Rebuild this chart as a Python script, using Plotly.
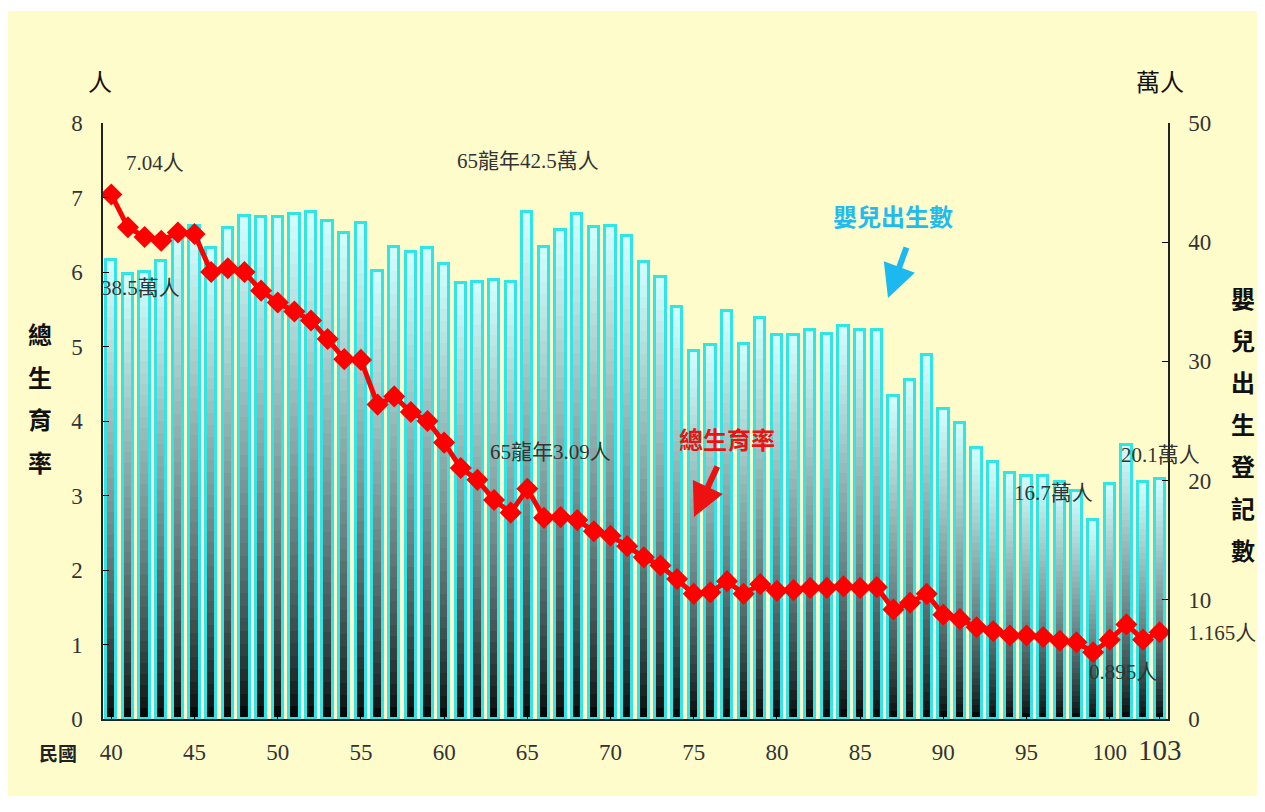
import plotly.graph_objects as go
import numpy as np

# ---------------- data ----------------
years = list(range(40, 104))
births = [38.5, 37.3, 37.5, 38.4, 41.0, 41.4, 39.5, 41.2, 42.2, 42.1,
          42.1, 42.4, 42.5, 41.8, 40.8, 41.6, 37.6, 39.6, 39.2, 39.5,
          38.2, 36.6, 36.7, 36.8, 36.7, 42.5, 39.6, 41.0, 42.4, 41.3,
          41.4, 40.5, 38.3, 37.1, 34.6, 30.9, 31.4, 34.2, 31.5, 33.6,
          32.2, 32.2, 32.6, 32.3, 33.0, 32.6, 32.6, 27.1, 28.4, 30.5,
          26.0, 24.8, 22.7, 21.6, 20.6, 20.4, 20.4, 19.9, 19.1, 16.7,
          19.7, 23.0, 19.9, 20.1]
tfr = [7.04, 6.60, 6.47, 6.42, 6.53, 6.51, 6.00, 6.05, 6.00, 5.75,
       5.59, 5.47, 5.35, 5.10, 4.83, 4.82, 4.22, 4.33, 4.12, 4.00,
       3.71, 3.37, 3.21, 2.94, 2.77, 3.09, 2.70, 2.71, 2.67, 2.52,
       2.46, 2.32, 2.17, 2.06, 1.88, 1.68, 1.70, 1.85, 1.68, 1.81,
       1.72, 1.73, 1.76, 1.76, 1.78, 1.76, 1.77, 1.47, 1.56, 1.68,
       1.40, 1.34, 1.23, 1.18, 1.12, 1.12, 1.10, 1.05, 1.03, 0.895,
       1.065, 1.27, 1.065, 1.165]
x_tickvals = [40, 45, 50, 55, 60, 65, 70, 75, 80, 85, 90, 95, 100, 103]
x_ticktext = ["40", "45", "50", "55", "60", "65", "70", "75", "80", "85",
              "90", "95", "100", "<span style='font-size:29px'>103</span>"]
left_ticks = [0, 1, 2, 3, 4, 5, 6, 7, 8]
right_ticks = [0, 10, 20, 30, 40, 50]

# ---------------- layout geometry ----------------
# page body has an 8px margin; work in screen pixels and convert
OFF = 8
W, H = 1265 - OFF, 812 - OFF
L, R, T, B = 103, 1168, 123, 719   # plot area in screen pixels


def px(xp):
    return (xp - L) / (R - L)


def py(yp):
    return (B - yp) / (B - T)


SERIF = "Liberation Serif, Times New Roman, serif"
CJK = "Noto Sans CJK TC, Noto Sans CJK SC, sans-serif"

fig = go.Figure()

# gradient bars: stacked slices of each bar
N = 40
b = np.array(births)
top_rgb = np.array([212, 255, 255])
for k in range(N):
    t = (k + 0.5) / N
    f = t ** 0.7
    c = (top_rgb * f).astype(int)
    fig.add_trace(go.Bar(
        x=years, y=b / N, base=b * k / N, width=0.62,
        marker=dict(color=f"rgb({c[0]},{c[1]},{c[2]})", line=dict(width=0)),
        yaxis="y", showlegend=False, hoverinfo="skip"))
# outline
fig.add_trace(go.Bar(
    x=years, y=births, width=0.62,
    marker=dict(color="rgba(0,0,0,0)", line=dict(color="#2EE6E6", width=3)),
    yaxis="y", showlegend=False, name="嬰兒出生數"))

# TFR line
fig.add_trace(go.Scatter(
    x=years, y=tfr, mode="lines+markers", yaxis="y2",
    line=dict(color="#FF0000", width=5),
    marker=dict(symbol="diamond", size=17, color="#FF0000"),
    showlegend=False, name="總生育率"))

ann = []


def txt(s, xp, yp, size=22, color="#222222", bold=False, family=CJK):
    ann.append(dict(text=(f"<b>{s}</b>" if bold else s), x=px(xp), y=py(yp),
                    xref="paper", yref="paper", showarrow=False,
                    font=dict(size=size, color=color, family=family),
                    xanchor="center", yanchor="middle"))


txt("人", 100, 80, 24, "#111111")
txt("萬人", 1160, 80, 24, "#111111")
for i, ch in enumerate("總生育率"):
    txt(ch, 40, 333 + i * 43, 24, "#111111", bold=True)
for i, ch in enumerate("嬰兒出生登記數"):
    txt(ch, 1243, 297 + i * 42, 24, "#111111", bold=True)
txt("民國", 58, 752, 19, "#222222", bold=True)

serif_cjk = "Liberation Serif, Noto Sans CJK TC, serif"
txt("7.04人", 155, 163, 21, "#333333", family=serif_cjk)
txt("38.5萬人", 140, 288, 21, "#333333", family=serif_cjk)
txt("65龍年42.5萬人", 528, 161, 21, "#333333", family=serif_cjk)
txt("65龍年3.09人", 550, 452, 21, "#333333", family=serif_cjk)
txt("16.7萬人", 1053, 493, 21, "#333333", family=serif_cjk)
txt("20.1萬人", 1160, 455, 21, "#333333", family=serif_cjk)
txt("1.165人", 1222, 633, 21, "#333333", family=serif_cjk)
txt("0.895人", 1123, 672, 21, "#333333", family=serif_cjk)
txt("嬰兒出生數", 893, 215, 24, "#22BBEE", bold=True)
txt("總生育率", 727, 438, 24, "#EE1111", bold=True)

# arrows
ann.append(dict(x=px(888), y=py(298), xref="paper", yref="paper", text="",
                showarrow=True, ax=19, ay=-52, axref="pixel", ayref="pixel",
                arrowhead=2, arrowsize=1.1, arrowwidth=6, arrowcolor="#1CB8F0"))
ann.append(dict(x=px(694), y=py(517), xref="paper", yref="paper", text="",
                showarrow=True, ax=24, ay=-52, axref="pixel", ayref="pixel",
                arrowhead=2, arrowsize=1.1, arrowwidth=6, arrowcolor="#EE1111"))

fig.update_layout(
    width=W, height=H,
    margin=dict(l=L - OFF, r=W - (R - OFF), t=T - OFF, b=H - (B - OFF), pad=0),
    paper_bgcolor="white", plot_bgcolor="rgba(0,0,0,0)",
    barmode="overlay", bargap=0,
    xaxis=dict(range=[39.5, 103.5], tickvals=x_tickvals, ticktext=x_ticktext,
               ticks="inside", ticklen=6, tickcolor="#000000",
               showline=True, linecolor="#222222", linewidth=1.5,
               showgrid=False, zeroline=False,
               tickfont=dict(family=SERIF, size=23, color="#333333"),
               ticklabelstandoff=12),
    yaxis=dict(range=[0, 50], tickvals=right_ticks, side="right",
               ticks="inside", ticklen=6, tickcolor="#000000",
               showline=True, linecolor="#222222", linewidth=1.5,
               showgrid=False, zeroline=False,
               tickfont=dict(family=SERIF, size=23, color="#333333"),
               ticklabelstandoff=14),
    yaxis2=dict(range=[0, 8], tickvals=left_ticks, side="left", overlaying="y",
                ticks="inside", ticklen=6, tickcolor="#000000",
                showline=True, linecolor="#222222", linewidth=1.5,
                showgrid=False, zeroline=False,
                tickfont=dict(family=SERIF, size=23, color="#333333"),
                ticklabelstandoff=14),
    annotations=ann,
    shapes=[dict(type="rect", xref="paper", yref="paper", layer="below",
                 x0=px(8), x1=px(1259), y0=py(796), y1=py(11),
                 fillcolor="#FFFCCC", line=dict(width=0))],
)

fig.write_html("out.html")
